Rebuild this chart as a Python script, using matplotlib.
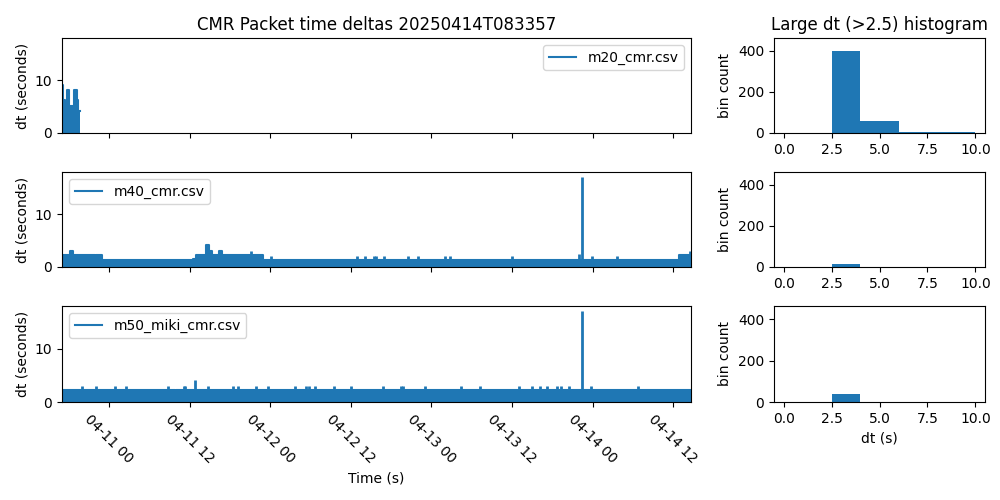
import numpy as np
import matplotlib
matplotlib.use("Agg")
import matplotlib.pyplot as plt
import matplotlib.dates as mdates

# ---------------- data ----------------
title_left = "CMR Packet time deltas 20250414T083357"
title_right = "Large dt (>2.5) histogram"
series_names = ["m20_cmr.csv", "m40_cmr.csv", "m50_miki_cmr.csv"]

x_start = "2025-04-10 17:00"
x_end = "2025-04-14 14:39"

# baseline envelope (step, post) of dt per series
m20_times = ["2025-04-10 17:00", "2025-04-10 17:10", "2025-04-10 17:28", "2025-04-10 17:49",
             "2025-04-10 18:03", "2025-04-10 18:45", "2025-04-10 19:11", "2025-04-10 19:26",
             "2025-04-10 19:44"]
m20_levels = [9.2, 6.2, 5.2, 8.2, 5.2, 8.2, 6.2, 4.1, 4.1]

m40_times = ["2025-04-10 17:00", "2025-04-10 18:09", "2025-04-10 18:39", "2025-04-10 21:52",
             "2025-04-10 22:07", "2025-04-10 22:58", "2025-04-11 12:30", "2025-04-11 13:00",
             "2025-04-11 14:29", "2025-04-11 14:53", "2025-04-11 15:23", "2025-04-11 16:19",
             "2025-04-11 16:49", "2025-04-11 22:55", "2025-04-14 12:49", "2025-04-14 14:39"]
m40_levels = [2.3, 3.0, 2.3, 1.3, 2.2, 1.3, 1.6, 2.2, 4.1, 3.0, 2.2, 3.0, 2.2, 1.3, 2.2, 2.2]

m50_times = ["2025-04-10 17:00", "2025-04-11 09:50", "2025-04-11 09:58", "2025-04-14 14:39"]
m50_levels = [2.28, 1.3, 2.28, 2.28]

# isolated spikes (time, dt)
m20_spike_times = []
m20_spike_values = []

m40_spike_times = ["2025-04-11 21:06", "2025-04-12 00:06", "2025-04-12 12:57", "2025-04-12 14:03",
                   "2025-04-12 15:26", "2025-04-12 15:41", "2025-04-12 16:55", "2025-04-12 20:29",
                   "2025-04-12 22:02", "2025-04-13 02:00", "2025-04-13 02:50", "2025-04-13 12:04",
                   "2025-04-13 22:02", "2025-04-13 22:23", "2025-04-13 23:52", "2025-04-14 03:41",
                   "2025-04-14 14:30"]
m40_spike_values = [3.0, 2.1, 2.1, 2.1, 2.1, 2.1, 2.1, 2.1, 2.1, 2.1, 2.1, 2.1,
                    2.5, 17.2, 2.1, 2.1, 3.0]

m50_spike_times = ["2025-04-10 19:59", "2025-04-10 22:07", "2025-04-11 00:51", "2025-04-11 02:35",
                   "2025-04-11 08:47", "2025-04-11 11:07", "2025-04-11 11:22", "2025-04-11 12:51",
                   "2025-04-11 14:44", "2025-04-11 18:27", "2025-04-11 19:15", "2025-04-11 21:50",
                   "2025-04-11 23:43", "2025-04-12 03:38", "2025-04-12 05:16", "2025-04-12 05:46",
                   "2025-04-12 06:37", "2025-04-12 09:29", "2025-04-12 12:04", "2025-04-12 16:46",
                   "2025-04-12 19:30", "2025-04-12 19:44", "2025-04-12 23:04", "2025-04-13 04:20",
                   "2025-04-13 07:16", "2025-04-13 13:01", "2025-04-13 14:56", "2025-04-13 16:11",
                   "2025-04-13 17:11", "2025-04-13 18:40", "2025-04-13 19:19", "2025-04-13 20:27",
                   "2025-04-13 22:23", "2025-04-13 23:46", "2025-04-14 06:43"]
m50_spike_values = [3.1, 3.1, 3.1, 3.1, 3.1, 3.1, 3.1, 4.2, 3.1, 3.1, 3.1, 3.1,
                    3.1, 3.1, 3.1, 3.1, 3.1, 3.1, 3.1, 3.1, 3.1, 3.1, 3.1, 3.1,
                    3.1, 3.1, 3.1, 3.1, 3.1, 3.1, 3.1, 3.1, 17.2, 3.1, 3.1]

# histograms of large dt
hist_edges = [0.0, 2.5, 4.0, 6.0, 8.0, 10.0]
m20_counts = [0, 400, 58, 5, 4]
m40_counts = [0, 16, 0, 0, 0]
m50_counts = [0, 38, 0, 0, 0]

# ---------------- plot ----------------
color = "#1f77b4"
fig = plt.figure(figsize=(10, 5), dpi=100)

left_x, left_w = 0.062, 0.629
right_x, right_w = 0.774, 0.211
bottoms = [0.734, 0.466, 0.196]
heights = [0.190, 0.190, 0.192]

env_times = [m20_times, m40_times, m50_times]
env_levels = [m20_levels, m40_levels, m50_levels]
sp_times = [m20_spike_times, m40_spike_times, m50_spike_times]
sp_values = [m20_spike_values, m40_spike_values, m50_spike_values]
counts = [m20_counts, m40_counts, m50_counts]
legend_locs = ["upper right", "upper left", "upper left"]

ax_bottom = fig.add_axes([left_x, bottoms[2], left_w, heights[2]])
hax_first = None
for i in range(3):
    if i == 2:
        ax = ax_bottom
    else:
        ax = fig.add_axes([left_x, bottoms[i], left_w, heights[i]], sharex=ax_bottom, sharey=ax_bottom)
    t = np.array(env_times[i], dtype="datetime64[m]")
    v = np.array(env_levels[i])
    ax.fill_between(t, 0, v, step="post", color=color, lw=0)
    line, = ax.step(t, v, where="post", color=color, lw=1.5, label=series_names[i])
    if len(sp_times[i]):
        st = np.array(sp_times[i], dtype="datetime64[m]")
        ax.vlines(st, 0, sp_values[i], color=color, lw=2.0)
    ax.legend(handles=[line], loc=legend_locs[i])
    ax.set_ylabel("dt (seconds)")
    if i < 2:
        ax.tick_params(labelbottom=False)
    if i == 0:
        ax.set_title(title_left)

    hax = fig.add_axes([right_x, bottoms[i], right_w, heights[i]],
                       sharey=hax_first if hax_first is not None else None)
    if hax_first is None:
        hax_first = hax
    centers = [(hist_edges[k] + hist_edges[k + 1]) / 2 for k in range(len(counts[i]))]
    hax.hist(centers, bins=hist_edges, weights=counts[i], color=color)
    hax.set_ylabel("bin count")
    hax.set_xticks([0.0, 2.5, 5.0, 7.5, 10.0])
    if i == 0:
        hax.set_title(title_right)
    if i == 2:
        hax.set_xlabel("dt (s)")

hax_first.set_ylim(0, 463)
hax_first.set_yticks([0, 200, 400])

ax_bottom.set_ylim(0, 18.06)
ax_bottom.set_yticks([0, 10])
ax_bottom.set_xlim(np.datetime64(x_start.replace(" ", "T")), np.datetime64(x_end.replace(" ", "T")))
ax_bottom.xaxis.set_major_locator(mdates.HourLocator(byhour=[0, 12]))
ax_bottom.xaxis.set_major_formatter(mdates.DateFormatter("%m-%d %H"))
for lab in ax_bottom.get_xticklabels():
    lab.set_rotation(-45)
    lab.set_ha("center")
ax_bottom.set_xlabel("Time (s)")

fig.savefig("out.png", dpi=100)
